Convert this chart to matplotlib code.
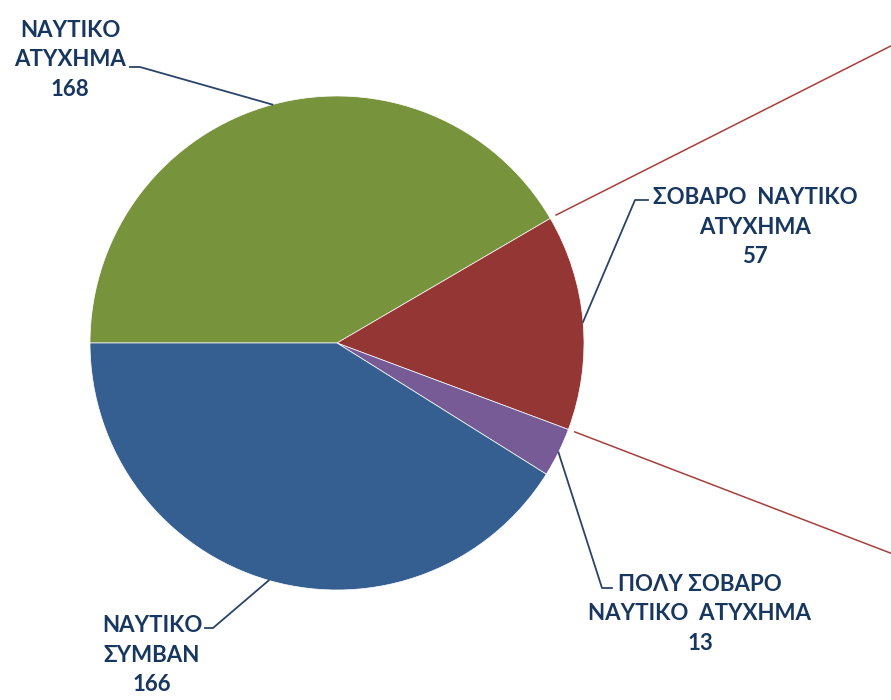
import numpy as np
import matplotlib.pyplot as plt

# data
labels = ['ΝΑΥΤΙΚΟ\nΑΤΥΧΗΜΑ', 'ΣΟΒΑΡΟ  ΝΑΥΤΙΚΟ\nΑΤΥΧΗΜΑ', 'ΠΟΛΥ ΣΟΒΑΡΟ\nΝΑΥΤΙΚΟ  ΑΤΥΧΗΜΑ', 'ΝΑΥΤΙΚΟ\nΣΥΜΒΑΝ']
values = [168, 57, 13, 166]
colors = ['#77933C', '#943634', '#775B97', '#355F91']

txtcol = '#17375E'
W, H = 891, 700
fig = plt.figure(figsize=(8.91, 7), dpi=100)
ax = fig.add_axes([0, 0, 1, 1])
ax.set_xlim(0, W)
ax.set_ylim(0, H)
ax.set_aspect('equal')
ax.axis('off')

cx, cy, R = 337, H - 343, 247
wedges, _ = ax.pie(values, colors=colors, startangle=180, counterclock=False,
                   center=(cx, cy), radius=R, frame=True,
                   wedgeprops=dict(edgecolor='white', linewidth=0.5))
ax.set_xlim(0, W)
ax.set_ylim(0, H)
ax.axis('off')

# wedge angles
tot = sum(values)
bounds = 180 - np.cumsum([0] + values) / tot * 360.0
mids = (bounds[:-1] + bounds[1:]) / 2

# pie-of-pie style connectors (red), from the red wedge edges
for a, d in [(bounds[1], 26.8), (bounds[2], -21.0)]:
    x0 = cx + (R + 6) * np.cos(np.radians(a))
    y0 = cy + (R + 6) * np.sin(np.radians(a))
    L = 800
    ax.plot([x0, x0 + L * np.cos(np.radians(d))], [y0, y0 + L * np.sin(np.radians(d))],
            color='#A5403D', lw=1.1, solid_capstyle='butt')

# labels: (text centre x, top-line y in px), elbow, end of horizontal tick
lab_pos = [(70, 60), (755, 227), (700, 614), (152, 655)]
elbow = [(140, 67), (635, 200), (602, 588), (213, 628)]
tick_end = [(130, 67), (648, 200), (612, 588), (205, 628)]

for i in range(len(values)):
    ex = cx + R * np.cos(np.radians(mids[i]))
    ey = cy + R * np.sin(np.radians(mids[i]))
    bx, by = elbow[i]
    tx, ty = tick_end[i]
    ax.plot([ex, bx, tx], [ey, H - by, H - ty], color='#2B4467', lw=1.3)
    ax.text(lab_pos[i][0], H - lab_pos[i][1], labels[i] + '\n' + str(values[i]),
            ha='center', va='center', fontsize=16, fontweight='bold', color=txtcol,
            linespacing=1.5, family=['Lato', 'DejaVu Sans'])

fig.savefig('out.png', dpi=100)
